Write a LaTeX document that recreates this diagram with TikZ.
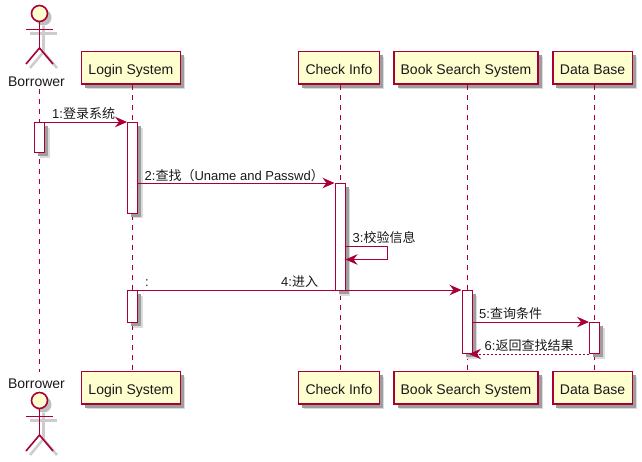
\documentclass[tikz,border=0pt]{standalone}
\usepackage{fontspec}
\setmainfont{Liberation Sans}
\newfontfamily\cjk{Noto Sans CJK SC}
\usetikzlibrary{arrows.meta, positioning, shadows, calc}
\definecolor{umlred}{HTML}{A80036}
\definecolor{umlfill}{HTML}{FEFECE}

\begin{document}
\begin{tikzpicture}[
  x=1pt, y=-1pt,
  softshadow/.style = {
    general shadow={shadow xshift=5pt, shadow yshift=-5pt, fill=black!14},
    general shadow={shadow xshift=3.5pt, shadow yshift=-3.5pt, fill=black!38}},
  party/.style = {draw=umlred, fill=umlfill, line width=1.5pt, softshadow, inner sep=0pt,
    minimum height=32.6pt, text height=14pt, text depth=0pt,
    font=\fontsize{14}{16}\selectfont, text=black!90},
  actorname/.style = {inner sep=0pt, text height=10pt, text depth=0pt,
    font=\fontsize{14}{16}\selectfont, text=black!90},
  lifeline/.style = {draw=umlred, line width=0.8pt, dash pattern=on 5pt off 5pt},
  active/.style = {draw=umlred, fill=white, line width=1pt, softshadow, inner sep=0pt,
    minimum width=10pt},
  msg/.style = {draw=umlred, line width=1pt,
    -{Stealth[length=12pt, width=10.5pt, inset=4pt, fill=umlred]}},
  msgtext/.style = {anchor=west, inner sep=0pt, text height=10pt, text depth=0pt,
    font=\fontsize{13}{15}\selectfont, text=black!90},
  actor/.pic = {
    % shadow
    \begin{scope}[shift={(4,4)}, black!20, line width=2.5pt]
      \draw (-13.5,8) -- (13.5,8);
      \draw (0,0) -- (0,26.5);
      \draw (-13.5,42.5) -- (0,26.5) -- (13.5,42.5);
    \end{scope}
    \fill[black!25] (4,-4) circle (8);
    % figure
    \draw[umlred, line width=1.6pt] (-13.5,8) -- (13.5,8);
    \draw[umlred, line width=1.6pt] (0,0) -- (0,26.5);
    \draw[umlred, line width=1.6pt] (-13.5,42.5) -- (0,26.5) -- (13.5,42.5);
    \draw[umlred, fill=umlfill, line width=1.6pt] (0,-8) circle (8);
  }
]
\useasboundingbox (0,0) rectangle (642,461);

% Participants, top row
\node[party, minimum width=98.8pt] (loginTop) at (130.9,67.9) {Login System};
\node[party, minimum width=80.7pt] (checkTop) at (339,67.9) {Check Info};
\node[party, minimum width=144pt]  (bookTop)  at (466,67.9) {Book Search System};
\node[party, minimum width=79.3pt] (dataTop)  at (592.6,67.9) {Data Base};

% Participants, bottom row
\node[party, minimum width=98.8pt] (loginFoot) at (130.9,387.9) {Login System};
\node[party, minimum width=80.7pt] (checkFoot) at (339,387.9) {Check Info};
\node[party, minimum width=144pt]  (bookFoot)  at (466,387.9) {Book Search System};
\node[party, minimum width=79.3pt] (dataFoot)  at (592.6,387.9) {Data Base};

% Actor
\pic at (39.5,21.5) {actor};
\pic at (39.5,408.5) {actor};
\node[actorname] (borrowerTop)  at (36.5,81) {Borrower};
\node[actorname] (borrowerFoot) at (36.5,383) {Borrower};
\coordinate (lineTop)  at (39.5,89);
\coordinate (lineFoot) at (39.5,372);

% Lifeline columns
\coordinate (loginX) at (132,0);
\coordinate (checkX) at (340,0);
\coordinate (bookX)  at (467,0);
\coordinate (dataX)  at (594.5,0);

% Lifelines
\draw[lifeline] (lineTop) -- (lineFoot);
\draw[lifeline] (loginX |- loginTop.south) -- (loginX |- loginFoot.north);
\draw[lifeline] (checkX |- checkTop.south) -- (checkX |- checkFoot.north);
\draw[lifeline] (bookX |- bookTop.south) -- (bookX |- bookFoot.north);
\draw[lifeline] (dataX |- dataTop.south) -- (dataX |- dataFoot.north);

% Activations
\node[active, minimum height=30pt]    (borrowerAct) at (39.5,137.5) {};
\node[active, minimum height=90.5pt]  (loginAct)    at (132.5,167.75) {};
\node[active, minimum height=32pt]    (loginActB)   at (132.5,306.5) {};
\node[active, minimum height=107pt]   (checkAct)    at (340,237) {};
\node[active, minimum height=63pt]    (bookAct)     at (467,322) {};
\node[active, minimum height=31pt]    (dataAct)     at (594.5,338) {};

% Messages
\draw[msg] (borrowerAct.north east) -- (loginAct.north west);
\draw[msg] (loginAct.east |- checkAct.north) -- (checkAct.north west);
\coordinate (selfOut) at (345,246.5);
\coordinate (selfBack) at (345.5,259.5);
\draw[msg] (selfOut) -- (387.5,246.5) -- (387.5,259.5) -- (selfBack);
\draw[msg] (loginActB.north east) -- (bookAct.north west);
\draw[msg] (bookAct.east |- dataAct.north) -- (dataAct.north west);
\draw[msg, dash pattern=on 2pt off 2pt] (dataAct.south west) -- ($(bookAct.south east)+(-3.5,0)$);

% Message labels
\node[msgtext] (msgA)  at (52,113) {1:{\cjk 登录系统}};
\node[msgtext] (msgB)  at (144.5,175) {2:{\cjk 查找（}Uname and Passwd{\cjk ）}};
\node[msgtext] (msgC)  at (352.5,237) {3:{\cjk 校验信息}};
\node[msgtext] (msgDa) at (145,281) {:};
\node[msgtext] (msgD)  at (281,281) {4:{\cjk 进入}};
\node[msgtext] (msgE)  at (479,313) {5:{\cjk 查询条件}};
\node[msgtext] (msgF)  at (484.5,345) {6:{\cjk 返回查找结果}};

\end{tikzpicture}
\end{document}
